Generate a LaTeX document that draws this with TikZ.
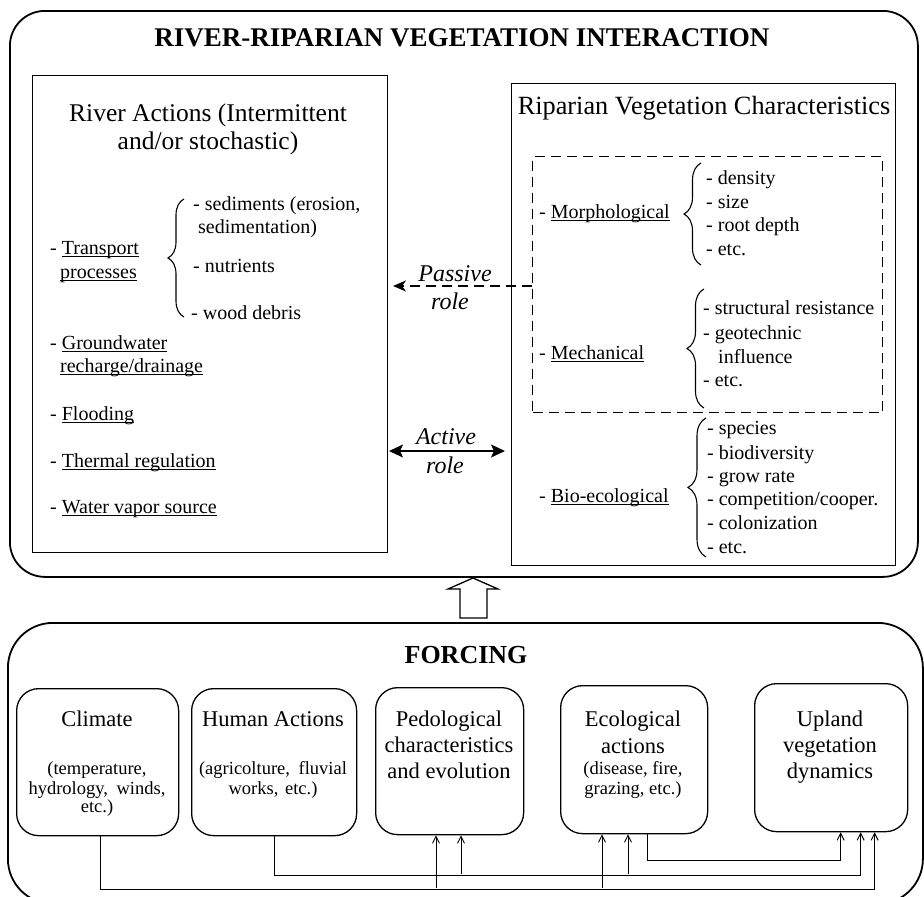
\documentclass[tikz,border=0pt]{standalone}
\usepackage{fontspec}
\setmainfont{Liberation Serif}
\usetikzlibrary{arrows.meta,decorations.pathreplacing}
\newcommand{\myul}[1]{\setbox0\hbox{#1}\rlap{\rule[-3pt]{\wd0}{0.9pt}}\box0}
\begin{document}
\begin{tikzpicture}[x=1pt,y=-1pt,
  box/.style={draw, line width=1.3pt, inner sep=0pt, anchor=north west},
  outerbox/.style={box, line width=1.8pt},
  smallbox/.style={box, rounded corners=22pt},
  ttl/.style={font=\fontsize{27}{30}\selectfont\bfseries, anchor=mid, inner sep=0pt, yshift=-6pt},
  head/.style={font=\fontsize{25.5}{30}\selectfont, anchor=mid, inner sep=0pt, yshift=-5pt},
  item/.style={font=\fontsize{20}{24}\selectfont, anchor=mid west, inner sep=0pt, yshift=-4pt},
  role/.style={font=\fontsize{24}{28}\selectfont\itshape, anchor=mid, inner sep=0pt, yshift=-4pt},
  btitle/.style={font=\fontsize{22.5}{26}\selectfont, anchor=mid, inner sep=0pt, yshift=-5pt},
  bsub/.style={font=\fontsize{18.5}{21}\selectfont, anchor=mid, inner sep=0pt, yshift=-4pt},
  curly/.style={decorate, decoration={brace, amplitude=#1}, line width=1.1pt},
  dsh/.style={dash pattern=on 10pt off 6pt},
  link/.style={line width=0.9pt},
  arr/.style={link, -{Straight Barb[length=7pt,width=7pt]}},
]
\useasboundingbox (0,0) rectangle (924,897);

% ---------- upper part ----------
\node[outerbox, rounded corners=35pt, minimum width=908pt, minimum height=566pt] (top) at (9,10) {};
\node[ttl] (title) at (462,38) {RIVER-RIPARIAN VEGETATION INTERACTION};

\node[box, minimum width=355pt, minimum height=477pt] (river) at (32,75) {};
\node[box, minimum width=384pt, minimum height=482pt] (rip) at (511,83) {};
\node[box, dsh, minimum width=350pt, minimum height=256pt] (dbox) at (532,156) {};

\node[head] (rh1) at (208,114) {River Actions (Intermittent};
\node[head] (rh2) at (208,142) {and/or stochastic)};
\node[head, font=\fontsize{26.3}{30}\selectfont] (vh) at (704,107) {Riparian Vegetation Characteristics};

% river actions
\node[item] (tr1) at (50,248) {- \myul{Transport}};
\node[item] (tr2) at (60,272) {\myul{processes}};
\draw[curly=16pt] (184,317) -- (184,199);
\node[item] (s1) at (193,204) {- sediments (erosion,};
\node[item] (s2) at (198,227) {sedimentation)};
\node[item] (s3) at (193,266) {- nutrients};
\node[item] (s4) at (191,313) {- wood debris};
\node[item] (gw1) at (50,343) {- \myul{Groundwater}};
\node[item] (gw2) at (60,366) {\myul{recharge/drainage}};
\node[item] (fl) at (50,414) {- \myul{Flooding}};
\node[item] (th) at (50,461) {- \myul{Thermal regulation}};
\node[item] (wv) at (50,507) {- \myul{Water vapor source}};

% riparian vegetation
\node[item] (mo) at (539,212) {- \myul{Morphological}};
\draw[curly=17pt] (701,265) -- (701,163);
\node[item] (m1) at (706,178) {- density};
\node[item] (m2) at (706,202) {- size};
\node[item] (m3) at (706,225) {- root depth};
\node[item] (m4) at (706,249) {- etc.};

\node[item] (me) at (539,353) {- \myul{Mechanical}};
\draw[curly=17pt] (704,408) -- (704,289);
\node[item] (e1) at (703,308) {- structural resistance};
\node[item] (e2) at (703,333) {- geotechnic};
\node[item] (e3) at (718,357) {influence};
\node[item] (e4) at (703,380) {- etc.};

\node[item] (bi) at (539,496) {- \myul{Bio-ecological}};
\draw[curly=18pt] (706,557) -- (706,418);
\node[item] (b1) at (707,428) {- species};
\node[item] (b2) at (707,453) {- biodiversity};
\node[item] (b3) at (707,476) {- grow rate};
\node[item] (b4) at (707,499) {- competition/cooper.};
\node[item] (b5) at (707,523) {- colonization};
\node[item] (b6) at (707,547) {- etc.};

% roles
\coordinate (pa) at (393,286);
\draw[line width=1.3pt, dsh, -{Stealth[length=13pt,width=11pt,inset=4pt]}] (dbox.west |- pa) -- (pa);
\node[role] (pr1) at (455,275) {Passive};
\node[role] (pr2) at (450,303) {role};

\coordinate (a1) at (389,451);
\coordinate (a2) at (505,451);
\draw[line width=1.3pt, {Stealth[length=14pt,width=13pt,inset=3pt]}-{Stealth[length=14pt,width=13pt,inset=3pt]}] (a1) -- (a2);
\node[role] (ar1) at (446,438) {Active};
\node[role] (ar2) at (445,467) {role};

% hollow arrow
\draw[line width=1.3pt, line join=miter] (460,618) -- (460,589) -- (448,589) -- (473,578) -- (498,589) -- (487,589) -- (487,618) -- cycle;

% ---------- forcing ----------
\node[outerbox, rounded corners=45pt, minimum width=915pt, minimum height=281pt] (forc) at (7,622) {};
\node[ttl, font=\fontsize{26}{30}\selectfont\bfseries] (ftitle) at (466,655) {FORCING};

\node[smallbox, minimum width=162pt, minimum height=147pt] (clim) at (16,688) {};
\node[smallbox, minimum width=165pt, minimum height=147pt] (hum) at (191,688) {};
\node[smallbox, minimum width=148pt, minimum height=147pt] (ped) at (375,687) {};
\node[smallbox, minimum width=147pt, minimum height=148pt] (eco) at (560,685) {};
\node[smallbox, minimum width=153pt, minimum height=148pt] (up) at (754,683) {};

\node[btitle] (ct) at (97,719) {Climate};
\node[bsub] (c1) at (97,768) {(temperature,};
\node[bsub] (c2) at (97,788) {hydrology,\hspace{4pt} winds,};
\node[bsub] (c3) at (97,806) {etc.)};

\node[btitle] (ht) at (273,719) {Human Actions};
\node[bsub] (h1) at (273,768) {(agricolture,\hspace{4pt} fluvial};
\node[bsub] (h2) at (273,788) {works,\hspace{2pt} etc.)};

\node[btitle] (pt1) at (449,719) {Pedological};
\node[btitle] (pt2) at (449,745) {characteristics};
\node[btitle] (pt3) at (449,771) {and evolution};

\node[btitle] (et1) at (633,719) {Ecological};
\node[btitle] (et2) at (633,746) {actions};
\node[bsub] (e1s) at (633,768) {(disease, fire,};
\node[bsub] (e2s) at (633,788) {grazing, etc.)};

\node[btitle] (ut1) at (830,719) {Upland};
\node[btitle] (ut2) at (830,745) {vegetation};
\node[btitle] (ut3) at (830,771) {dynamics};

% connectors
\draw[arr] ([xshift=3pt]clim.south) -- ++(0,53) -| ([xshift=43.5pt]up.south);
\draw[arr] ([xshift=0.5pt]hum.south) -- ++(0,39) -| ([xshift=29.5pt]up.south);
\draw[arr] ([xshift=13pt]eco.south) -- ++(0,26) -| ([xshift=9.5pt]up.south);

\coordinate (p1) at (436,888);
\coordinate (p2) at (461,874);
\coordinate (q1) at (602,888);
\coordinate (q2) at (628,874);
\draw[arr] (p1) -- (p1 |- ped.south);
\draw[arr] (p2) -- (p2 |- ped.south);
\draw[arr] (q1) -- (q1 |- eco.south);
\draw[arr] (q2) -- (q2 |- eco.south);
\end{tikzpicture}
\end{document}
